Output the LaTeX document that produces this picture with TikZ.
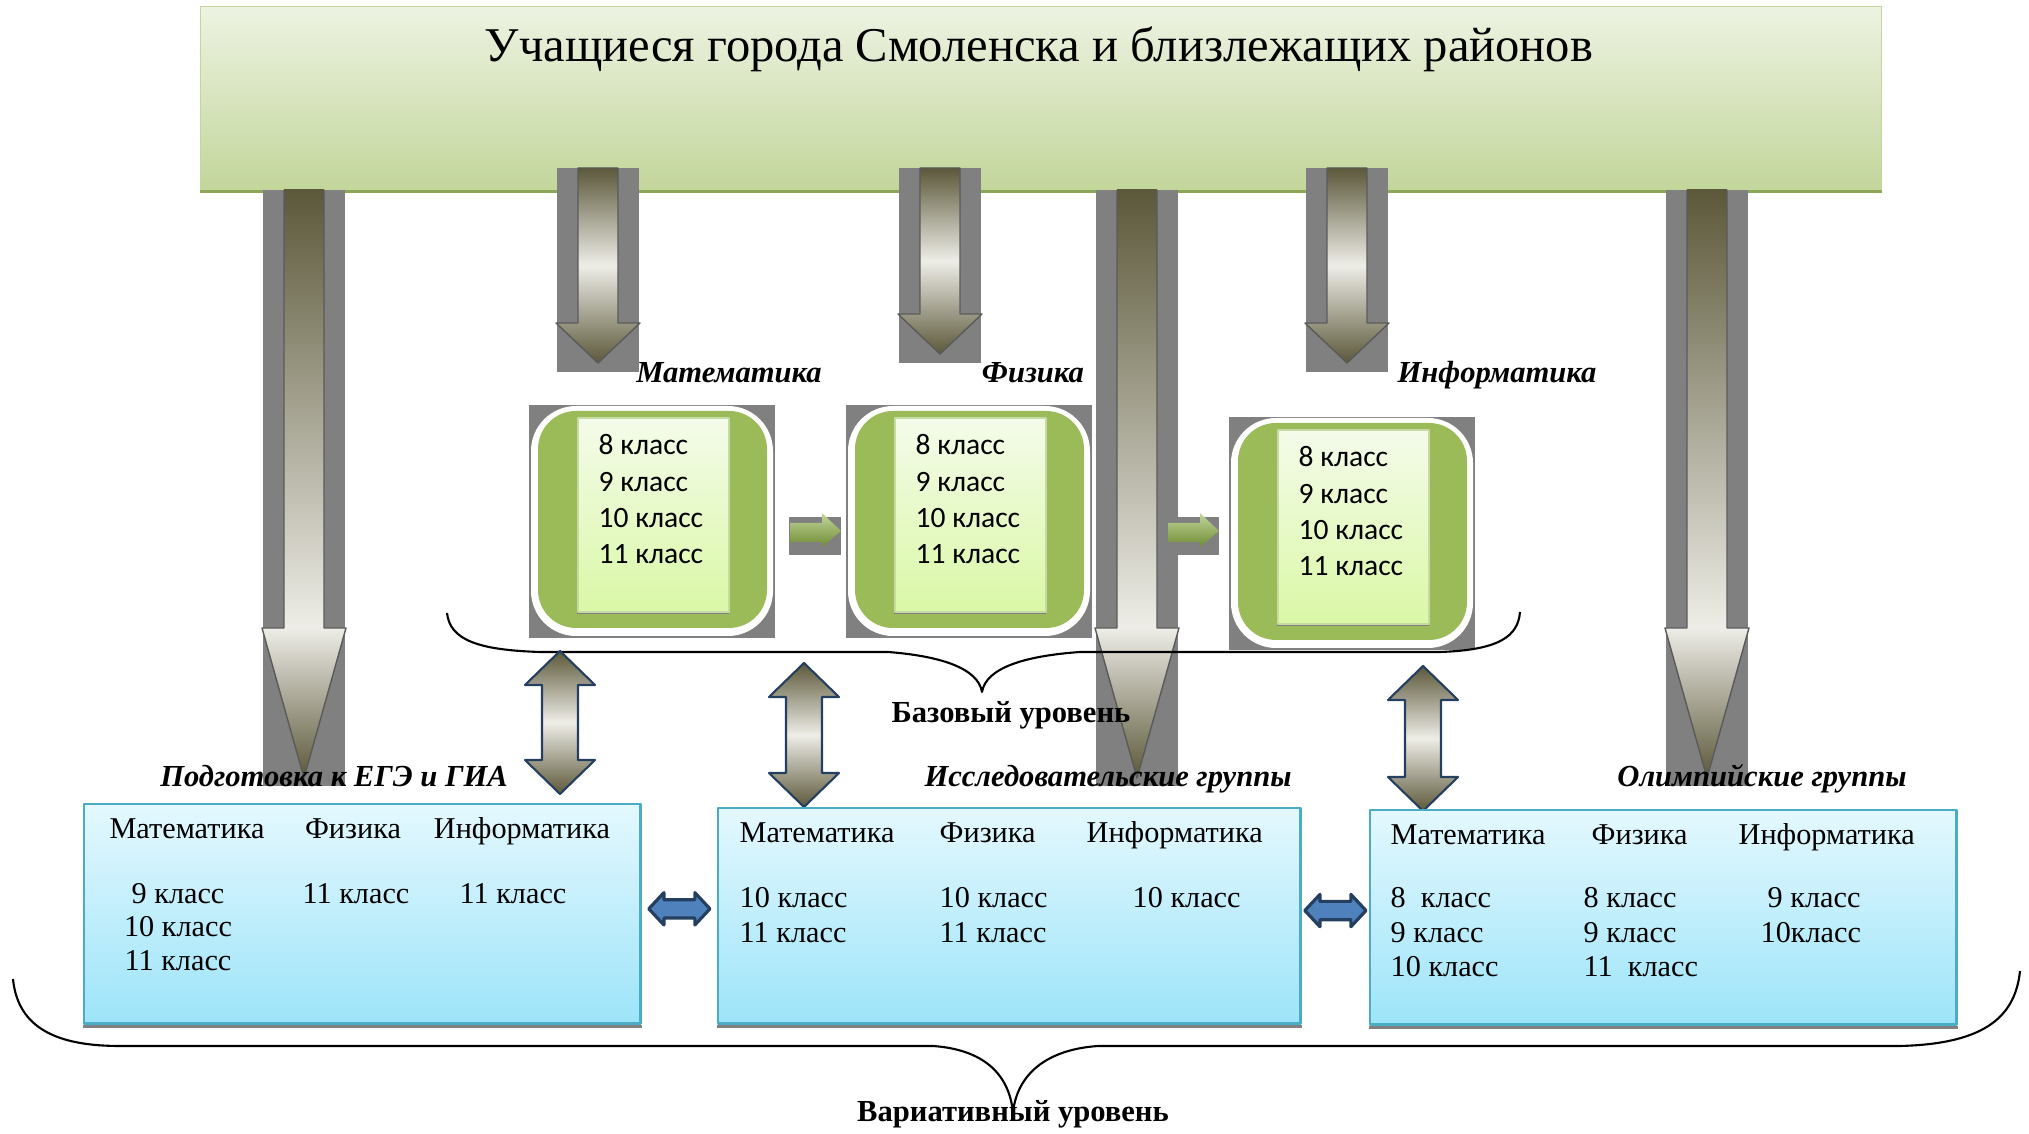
\documentclass[tikz,border=0pt]{standalone}
\usepackage{fontspec}
\setmainfont{Liberation Serif}
\newfontfamily\calibrifont{Carlito}
\usetikzlibrary{calc}

\definecolor{bantop}{HTML}{EDF3E2}
\definecolor{banbot}{HTML}{C3D69B}
\definecolor{banedge}{HTML}{8CA65A}
\definecolor{stripgray}{HTML}{808080}
\definecolor{olivedark}{HTML}{5C583A}
\definecolor{olivelight}{HTML}{EEEDE7}
\definecolor{leafgreen}{HTML}{9BBB59}
\definecolor{leafdark}{HTML}{6F8C35}
\definecolor{papertop}{HTML}{F4FBEA}
\definecolor{paperbot}{HTML}{DAF8A6}
\definecolor{skytop}{HTML}{E4F8FE}
\definecolor{skybot}{HTML}{9DE4F9}
\definecolor{skyedge}{HTML}{4BACC6}
\definecolor{navyedge}{HTML}{243F60}
\definecolor{linkblue}{HTML}{4F81BD}

\begin{document}
\begin{tikzpicture}[x=0.01cm,y=-0.01cm,line join=round,
    banner/.style={draw=banbot,top color=bantop,bottom color=banbot,anchor=north west,
      minimum width=16.8cm,minimum height=1.82cm,inner sep=0pt},
    strip/.style={fill=stripgray},
    shaftline/.style={draw=stripgray!70!black,line width=0.4pt},
    twoway/.style={draw=navyedge,line width=0.6pt,top color=olivedark,bottom color=olivedark,middle color=olivelight},
    sidelink/.style={draw=navyedge,line width=0.9pt,fill=linkblue},
    paper/.style={draw=leafgreen!55!white,line width=0.5pt,top color=papertop,bottom color=paperbot,
      anchor=north west,minimum width=1.51cm,minimum height=1.94cm,inner sep=0pt},
    grade/.style={font=\calibrifont\fontsize{8.4}{10}\selectfont,anchor=base west,inner sep=0pt},
    groupbox/.style={draw=skyedge,line width=0.7pt,top color=skytop,bottom color=skybot,
      anchor=north west,inner sep=0pt},
    cell/.style={font=\fontsize{8.6}{10}\selectfont,inner sep=0pt},
    heading/.style={font=\fontsize{8.7}{10}\selectfont\bfseries\itshape,anchor=base,inner sep=0pt},
    level/.style={font=\fontsize{8.7}{10}\selectfont\bfseries,anchor=base,inner sep=0pt},
    levelbrace/.style={draw=black,line width=0.6pt}]

  \useasboundingbox (0,0) rectangle (2029,1134);

  % the pupils banner
  \node[banner] (pupils) at (200,6) {};
  \fill[banedge] (pupils.south west) rectangle ([yshift=-0.03cm]pupils.south east);
  \node[font=\fontsize{13.8}{16}\selectfont,anchor=base] (title) at (1039,62)
       {Учащиеся города Смоленска и близлежащих районов};

  % long arrows down to the groups
  \foreach \x in {304,1137,1707} {
    \fill[strip] (\x-41,190) rectangle (\x+41,786);
    \shade[top color=olivedark,bottom color=olivelight] (\x-20,190) rectangle (\x+20,628);
    \shade[top color=olivelight,bottom color=olivedark] (\x-42,628) -- (\x+42,628) -- (\x,778) -- cycle;
    \draw[shaftline] (\x-20,190) -- (\x-20,628) -- (\x-42,628) -- (\x,778) -- (\x+42,628) -- (\x+20,628) -- (\x+20,190);
  }

  % short arrows down to the subjects
  \foreach \x/\tip in {598/363,940/354,1347/363} {
    \fill[strip] (\x-41,168) rectangle (\x+41,\tip+9);
    \path[shaftline,top color=olivedark,bottom color=olivedark,middle color=olivelight]
      (\x-20,168) -- (\x-20,\tip-40) -- (\x-42,\tip-40) -- (\x,\tip) -- (\x+42,\tip-40)
      -- (\x+20,\tip-40) -- (\x+20,168) -- cycle;
  }

  % subject names
  \foreach \nm/\x/\t in {lmath/729/Математика,lphys/1033/Физика,linf/1497/Информатика}
    \node[heading] (\nm) at (\x,383) {\t};

  % the subject boxes of the base level
  \foreach \nm/\bx/\by in {mathb/529/405,physb/846/405,infb/1229/417} {
    \fill[strip] (\bx,\by) rectangle (\bx+246,\by+233);
    \fill[white,rounded corners=0.45cm] (\bx+2,\by+1) rectangle (\bx+244,\by+231);
    \fill[leafgreen,rounded corners=0.38cm] (\bx+9,\by+6) rectangle (\bx+238,\by+223);
    \fill[strip] (\bx+48,\by+205) rectangle (\bx+200,\by+209);
    \node[paper] (\nm) at (\bx+48,\by+12) {};
    \foreach \g [count=\i] in {8,9,10,11}
      \node[grade] (\nm-\i) at (\bx+69,\by+50+36.3*\i-36.3) {\g\ класс};
  }

  % green arrows from subject to subject
  \foreach \x in {789,1167} {
    \fill[strip] (\x,517) rectangle (\x+52,555);
    \path[top color=leafgreen!60!white,bottom color=leafdark]
      (\x+1,523) -- (\x+33,523) -- (\x+33,513) -- (\x+52,531) -- (\x+33,547)
      -- (\x+33,542) -- (\x+1,542) -- cycle;
  }

  % brace of the base level
  \draw[levelbrace] (447,613) .. controls (450,640) and (478,650) .. (540,652) -- (888,652)
    .. controls (940,656) and (978,668) .. (982,692) .. controls (986,668) and (1024,656) .. (1080,652)
    -- (1440,652) .. controls (1500,650) and (1518,636) .. (1520,612);
  \node[level] (base) at (1011,723) {Базовый уровень};

  % two way arrows between the levels
  \foreach \x/\ya/\yb in {560/651/794,804/663/807,1423/666/811}
    \path[twoway] (\x,\ya) -- (\x+35,\ya+34) -- (\x+18,\ya+34) -- (\x+18,\yb-34) -- (\x+35,\yb-34)
      -- (\x,\yb) -- (\x-35,\yb-34) -- (\x-18,\yb-34) -- (\x-18,\ya+34) -- (\x-35,\ya+34) -- cycle;

  % the group boxes of the variative level
  \foreach \nm/\bx/\by/\w/\h in {ege/83/803/5.56/2.19,research/717/807/5.82/2.15,olymp/1369/809/5.86/2.14} {
    \node[groupbox,minimum width=\w cm,minimum height=\h cm] (\nm) at (\bx,\by) {};
    \fill[strip] ([yshift=-0.005cm]\nm.south west) rectangle ([yshift=-0.035cm]\nm.south east);
  }
  \foreach \nm/\x/\t in {tege/334/Подготовка к ЕГЭ и ГИА,tresearch/1108/Исследовательские группы,
                         tolymp/1762/Олимпийские группы}
    \node[heading] (\nm) at (\x,787) {\t};

  % arrows between the groups
  \foreach \a/\b in {ege/research,research/olymp}
    \path[sidelink] let \p1=($(\a.east)!0.5!(\b.west)$) in
      (\x1-8.7pt,\y1+1.7pt) -- ++(4.3pt,4.6pt) -- ++(0,-2pt) -- ++(8.8pt,0) -- ++(0,2pt)
      -- ++(4.3pt,-4.6pt) -- ++(-4.3pt,-4.6pt) -- ++(0,2pt) -- ++(-8.8pt,0) -- ++(0,-2pt) -- cycle;

  % texts of the first group
  \foreach \nm/\x/\y/\t in {e-m/187/839/Математика,e-p/353/839/Физика,e-i/522/839/Информатика,
      e-m9/178/904/9 класс,e-m10/178/937/10 класс,e-m11/178/971/11 класс,
      e-p11/356/904/11 класс,e-i11/513/904/11 класс}
    \node[cell,anchor=base] (\nm) at (\x,\y) {\t};

  % texts of the other groups
  \foreach \nm/\x/\y/\t in {r-m/739/843/Математика,r-p/939/843/Физика,r-i/1086/843/Информатика,
      r-m10/739/908/10 класс,r-m11/739/943/11 класс,r-p10/939/908/10 класс,
      r-p11/939/943/11 класс,r-i10/1132/908/10 класс,
      o-m/1390/845/Математика,o-p/1591/845/Физика,o-i/1738/845/Информатика,
      o-m8/1390/908/8\ \ класс,o-m9/1390/943/9 класс,o-m10/1390/977/10 класс,
      o-p8/1583/908/8 класс,o-p9/1583/943/9 класс,o-p11/1583/977/11\ \ класс,
      o-i9/1767/908/9 класс,o-i10/1760/943/10класс}
    \node[cell,anchor=base west] (\nm) at (\x,\y) {\t};

  % brace of the variative level
  \draw[levelbrace] (13,979) .. controls (18,1030) and (60,1046) .. (120,1046) -- (933,1046)
    .. controls (990,1050) and (1010,1080) .. (1013,1113) .. controls (1016,1080) and (1040,1050) .. (1098,1046)
    -- (1900,1046) .. controls (1980,1044) and (2015,1020) .. (2020,971);
  \node[level] (variative) at (1013,1122) {Вариативный уровень};
\end{tikzpicture}
\end{document}
